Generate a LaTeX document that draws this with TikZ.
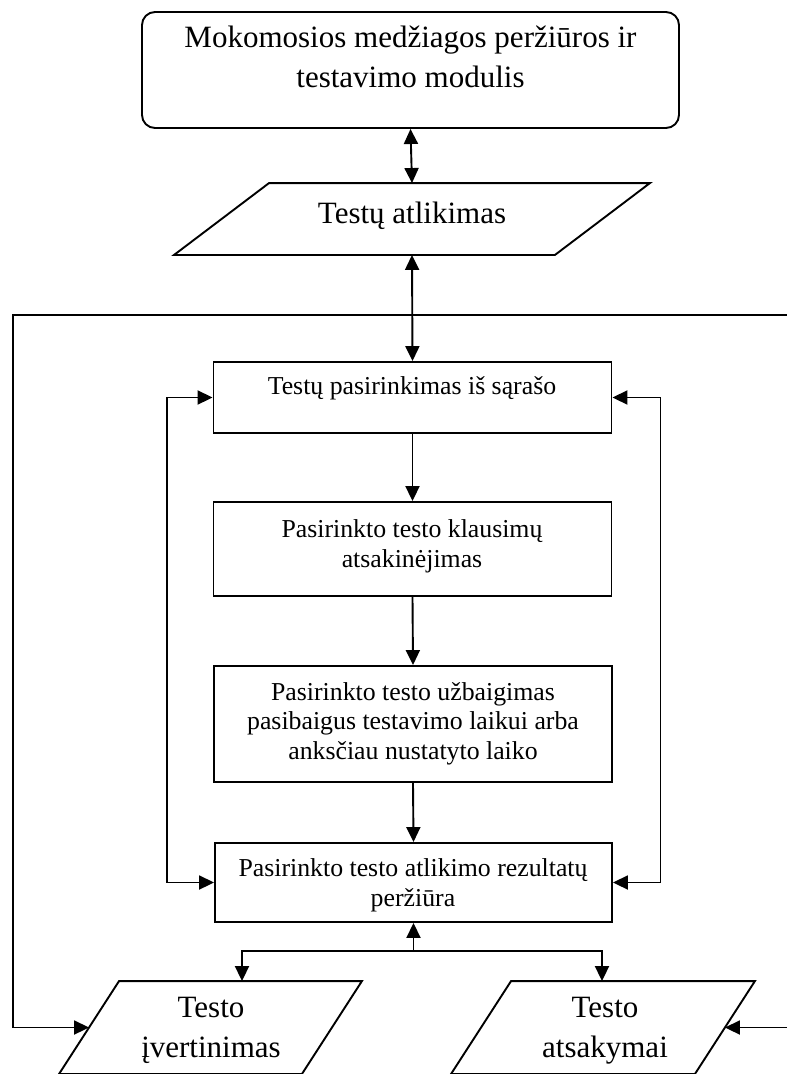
\documentclass[tikz,border=0pt]{standalone}
\usepackage{fontspec}
\setmainfont{Liberation Serif}
\usetikzlibrary{arrows.meta,calc}
\begin{document}
\begin{tikzpicture}[x=1pt,y=-1pt,
  line width=1.9pt,
  >={Triangle[length=15pt,width=14pt]},
  bigtext/.style={font=\fontsize{31}{40}\selectfont, align=center, inner sep=0pt, anchor=base},
  smalltext/.style={font=\fontsize{25.8}{29.5}\selectfont, align=center, inner sep=0pt, anchor=base},
  stepbox/.style={draw, minimum width=398pt, inner sep=0pt},
  frame/.style={inner sep=0pt}
]
\useasboundingbox (0,0) rectangle (787,1074);

% module box (text anchored at the baseline of its last line)
\node[draw, rounded corners=13pt, minimum width=537pt, minimum height=116pt, inner sep=0pt] (mod) at (410.5,70) {};
\node[bigtext] (modt) at (410.5,87) {Mokomosios medžiagos peržiūros ir\\testavimo modulis};

% input/output: test execution
\node[frame, minimum width=474pt, minimum height=70pt] (atl) at (412,219) {};
\draw ($(atl.north west)+(95,0)$) -- (atl.north east) -- ($(atl.south east)-(95,0)$) -- (atl.south west) -- cycle;
\node[bigtext] (atlt) at (412,223) {Testų atlikimas};

% process steps
\node[stepbox, minimum height=71pt] (b1) at (412.5,397.5) {};
\node[smalltext] (t1) at (412,394) {Testų pasirinkimas iš sąrašo};

\node[stepbox, minimum height=94pt] (b2) at (412.5,549) {};
\node[smalltext] (t2) at (412,567) {Pasirinkto testo klausimų\\atsakinėjimas};

\node[stepbox, minimum height=116pt] (b3) at (413,724) {};
\node[smalltext] (t3) at (413,759) {Pasirinkto testo užbaigimas\\pasibaigus testavimo laikui arba\\anksčiau nustatyto laiko};

\node[stepbox, minimum width=397pt, minimum height=79pt] (b4) at (413.5,882.5) {};
\node[smalltext] (t4) at (413,906) {Pasirinkto testo atlikimo rezultatų\\peržiūra};

% output parallelograms
\node[frame, minimum width=301pt, minimum height=91pt] (pl) at (210.5,1027.5) {};
\draw ($(pl.north west)+(60,0)$) -- (pl.north east) -- ($(pl.south east)-(60,0)$) -- (pl.south west) -- cycle;
\node[bigtext] (tl) at (211,1057) {Testo\\įvertinimas};

\node[frame, minimum width=302pt, minimum height=91pt] (pr) at (603,1027.5) {};
\draw ($(pr.north west)+(60,0)$) -- (pr.north east) -- ($(pr.south east)-(60,0)$) -- (pr.south west) -- cycle;
\node[bigtext] (tr) at (605,1057) {Testo\\atsakymai};

% connectors
\draw[<->] (mod.south) -- (atl.north);
\draw[<->] (atl.south) -- (b1.north);
\draw[->] (b1.south) -- (b2.north);
\draw[->] (b2.south) -- (b3.north);
\draw[->] (b3.south) -- (b4.north);

\coordinate (jn) at (413.5,951);
\draw[->] (jn) -- (b4.south);
\draw[->] (jn) -| ($(pl.north)+(31.5,0)$);
\draw[->] (jn) -| ($(pr.north)+(-1,0)$);

\draw[<->] (b1.west) -- ++(-46,0) |- (b4.west);
\draw[<->] (b1.east) -- ++(48,0) |- (b4.east);

\coordinate (lin) at ($(pl.west)+(30,0)$);
\coordinate (rin) at ($(pr.east)+(-30,0)$);
\draw[<->] (lin) -- (13,1027.5) -- (13,315) -- (793,315) -- (793,1027.5) -- (rin);
\end{tikzpicture}
\end{document}
